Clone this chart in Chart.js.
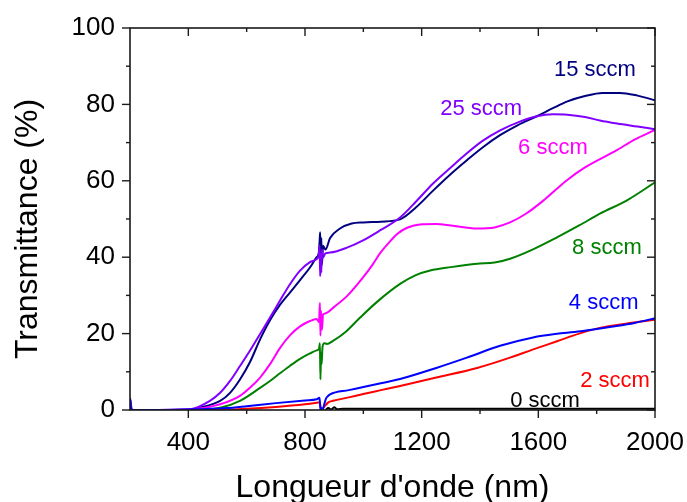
<!DOCTYPE html>
<html>
<head>
<meta charset="utf-8">
<script src="https://cdn.jsdelivr.net/npm/chart.js@4.4.1/dist/chart.umd.min.js"></script>
<style>
  html, body { margin: 0; padding: 0; background: #fff; }
  canvas { display: block; }
</style>
</head>
<body>
<canvas id="c" width="687" height="502"></canvas>
<script>
// Transmittance vs wavelength, one series per gas flow

const X_TICKS = [400, 800, 1200, 1600, 2000];
const X_MINOR = [600, 1000, 1400, 1800];
const Y_TICKS = [0, 20, 40, 60, 80, 100];
const Y_MINOR = [10, 30, 50, 70, 90];

// 15 sccm
const wl15 = [200, 300, 400, 440, 509, 543, 577, 611, 646, 680, 714, 749, 783, 817, 840, 847, 850, 852, 854, 856, 858, 862, 870, 886, 920, 960, 1000, 1060, 1126, 1180, 1240, 1300, 1355, 1410, 1470, 1530, 1595, 1650, 1700, 1760, 1820, 1880, 1940, 2000];
const t15  = [0, 0, 0, 0.6, 2.4, 4.5, 8, 12.5, 18.5, 23.5, 27.5, 30.8, 34, 37.3, 40, 41, 44, 46.5, 40, 45, 38, 43, 42, 45, 47.5, 48.8, 49.1, 49.3, 49.9, 53, 57.5, 61.8, 65.4, 68.8, 72, 74.6, 76.9, 79, 80.8, 82.2, 83, 83, 82.3, 81.1];

// 25 sccm
const wl25 = [200, 202, 205, 210, 300, 406, 474, 509, 543, 577, 611, 646, 680, 714, 749, 783, 817, 840, 847, 850, 852, 854, 856, 858, 862, 870, 886, 944, 999, 1057, 1126, 1180, 1239, 1300, 1355, 1410, 1469, 1530, 1595, 1650, 1700, 1760, 1811, 1870, 1940, 2000];
const t25  = [0, 2.5, 0.3, 0, 0, 0.2, 2.4, 4.5, 7.6, 11.5, 15.5, 19.9, 24.2, 28.6, 33, 36.5, 38.7, 39.5, 40.5, 43, 35, 41, 36, 42, 40, 41, 41.2, 42.5, 44.4, 47, 50.4, 54.5, 59.3, 63.5, 67.2, 70.5, 73.2, 75.3, 76.9, 77.4, 77.3, 76.7, 75.8, 75, 74.2, 73.5];

// 6 sccm
const wl6 = [200, 406, 509, 577, 611, 646, 680, 714, 749, 783, 817, 840, 848, 851, 853, 855, 858, 862, 870, 900, 944, 999, 1033, 1057, 1090, 1115, 1150, 1200, 1250, 1300, 1390, 1450, 1503, 1560, 1620, 1697, 1760, 1869, 1930, 2000];
const t6  = [0, 0.2, 1.5, 3.7, 5.8, 8.5, 12, 16.2, 19.6, 21.9, 23.3, 23.8, 23, 28, 19.5, 26, 21, 25, 25.3, 27, 29.8, 34.7, 38.2, 41, 44, 46, 47.7, 48.6, 48.7, 48.3, 47.5, 47.8, 49.1, 51.5, 55, 60.1, 63.5, 68, 70.8, 73.3];

// 8 sccm
const wl8 = [200, 420, 509, 577, 646, 680, 714, 749, 783, 817, 840, 848, 851, 853, 855, 857, 860, 866, 875, 896, 940, 989, 1050, 1126, 1180, 1229, 1300, 1390, 1450, 1503, 1580, 1664, 1740, 1811, 1904, 2000];
const t8  = [0, 0, 0.6, 2.4, 5.8, 7.6, 9.6, 11.6, 13.4, 14.8, 15.6, 16, 17.5, 8, 15, 12, 16.5, 17.5, 17.3, 18.1, 20.5, 24.2, 28.5, 33, 35.3, 36.5, 37.4, 38.3, 38.6, 39.6, 42, 45.2, 48.3, 51.4, 54.9, 59.6];

// 4 sccm
const wl4 = [200, 201, 203, 206, 210, 300, 400, 530, 600, 700, 800, 840, 850, 853, 856, 860, 866, 872, 878, 886, 950, 1000, 1060, 1126, 1250, 1355, 1469, 1582, 1670, 1753, 1850, 1930, 2000];
const t4  = [0, 3, 1, 0.2, 0, 0, 0.1, 0.5, 1, 1.8, 2.5, 2.8, 3.2, 0, 0.5, 0, 1.5, 3.0, 3.6, 4.1, 5.2, 6, 7, 8.1, 11, 13.7, 16.8, 19, 20, 20.7, 21.8, 22.8, 24];

// 2 sccm
const wl2 = [200, 500, 600, 700, 800, 841, 850, 856, 862, 870, 880, 896, 950, 1000, 1060, 1126, 1250, 1390, 1503, 1580, 1664, 1740, 1811, 1900, 2000];
const t2  = [0, 0, 0.3, 0.8, 1.5, 1.9, 2.0, 0, 0.5, 1.2, 2.0, 2.4, 3.3, 4.2, 5.2, 6.3, 8.5, 11, 13.7, 15.8, 18, 20, 21.5, 22.6, 23.6];

// 0 sccm
const wl0 = [870, 880, 890, 900, 910, 930, 2000];
const t0  = [0, 0.5, 0.1, 0.7, 0.2, 0.3, 0.3];

// curve labels: text, colour, x (nm), y (%)
const LABELS = [
  ["15 sccm", "#000080", 1794, 89],
  ["25 sccm", "#8000ff", 1404, 78.7],
  ["6 sccm", "#ff00ff", 1650, 68.5],
  ["8 sccm", "#008000", 1835, 42.3],
  ["4 sccm", "#0000ff", 1824, 28.1],
  ["2 sccm", "#ff0000", 1863, 7.6],
  ["0 sccm", "#000000", 1623, 2.4],
];

const FONT = "'Liberation Sans', Arial, sans-serif";

function pts(xs, ys) {
  return xs.map((x, i) => ({ x, y: ys[i] }));
}

function series(label, xs, ys, color) {
  return {
    label,
    data: pts(xs, ys),
    borderColor: color,
    backgroundColor: color,
    borderWidth: 2,
    pointRadius: 0,
    cubicInterpolationMode: "monotone",
  };
}

const datasets = [
  series("0 sccm", wl0, t0, "#000000"),
  series("4 sccm", wl4, t4, "#0000ff"),
  series("2 sccm", wl2, t2, "#ff0000"),
  series("25 sccm", wl25, t25, "#8000ff"),
  series("6 sccm", wl6, t6, "#ff00ff"),
  series("8 sccm", wl8, t8, "#008000"),
  series("15 sccm", wl15, t15, "#000080"),
];

// frame, tick marks, axis titles, curve labels
const decor = {
  id: "decor",
  afterDatasetsDraw(chart) {
    const { ctx, scales: { x, y } } = chart;
    ctx.save();
    ctx.font = "22px " + FONT;
    ctx.textAlign = "center";
    ctx.textBaseline = "middle";
    LABELS.forEach(([txt, col, lx, ly]) => {
      ctx.fillStyle = col;
      ctx.fillText(txt, x.getPixelForValue(lx), y.getPixelForValue(ly));
    });
    ctx.restore();
  },
  afterDraw(chart) {
    const { ctx, chartArea: a, scales: { x, y } } = chart;
    ctx.save();
    ctx.strokeStyle = "#1a1a1a";
    ctx.lineWidth = 1.6;
    ctx.strokeRect(a.left, a.top, a.right - a.left, a.bottom - a.top);

    const seg = (x1, y1, x2, y2) => {
      ctx.beginPath(); ctx.moveTo(x1, y1); ctx.lineTo(x2, y2); ctx.stroke();
    };
    ctx.lineWidth = 1.4;
    X_TICKS.forEach(v => {
      const p = x.getPixelForValue(v);
      seg(p, a.bottom, p, a.bottom + 8);
      seg(p, a.top, p, a.top + 8);
    });
    X_MINOR.forEach(v => {
      const p = x.getPixelForValue(v);
      seg(p, a.bottom, p, a.bottom + 4);
      seg(p, a.top, p, a.top + 4);
    });
    Y_TICKS.forEach(v => {
      const p = y.getPixelForValue(v);
      seg(a.left - 8, p, a.left, p);
      seg(a.right - 8, p, a.right, p);
    });
    Y_MINOR.forEach(v => {
      const p = y.getPixelForValue(v);
      seg(a.left - 4, p, a.left, p);
      seg(a.right - 4, p, a.right, p);
    });

    ctx.fillStyle = "#000";
    ctx.font = "32px " + FONT;
    ctx.textAlign = "center";
    ctx.textBaseline = "alphabetic";
    ctx.fillText("Longueur d'onde (nm)", (a.left + a.right) / 2, 497);
    ctx.translate(37, 229);
    ctx.rotate(-Math.PI / 2);
    ctx.fillText("Transmittance (%)", 0, 0);
    ctx.restore();
  },
};

new Chart(document.getElementById("c").getContext("2d"), {
  type: "line",
  data: { datasets },
  options: {
    responsive: false,
    animation: false,
    layout: { padding: { top: 28, right: 32, left: 0, bottom: 0 } },
    plugins: { legend: { display: false }, tooltip: { enabled: false } },
    scales: {
      x: {
        type: "linear",
        min: 200,
        max: 2000,
        grid: { display: false },
        border: { display: false },
        afterBuildTicks: s => { s.ticks = X_TICKS.map(v => ({ value: v })); },
        afterFit: s => { s.height = 92; s.paddingLeft = 0; s.paddingRight = 0; },
        ticks: {
          color: "#000",
          padding: 9,
          maxRotation: 0,
          font: { family: FONT, size: 26 },
          callback: v => String(v),
        },
      },
      y: {
        min: 0,
        max: 100,
        grid: { display: false },
        border: { display: false },
        afterBuildTicks: s => { s.ticks = Y_TICKS.map(v => ({ value: v })); },
        afterFit: s => { s.width = 130; s.paddingTop = 0; s.paddingBottom = 0; },
        ticks: {
          color: "#000",
          padding: 7,
          font: { family: FONT, size: 26 },
          callback: v => String(v),
        },
      },
    },
  },
  plugins: [decor],
});
</script>
</body>
</html>
